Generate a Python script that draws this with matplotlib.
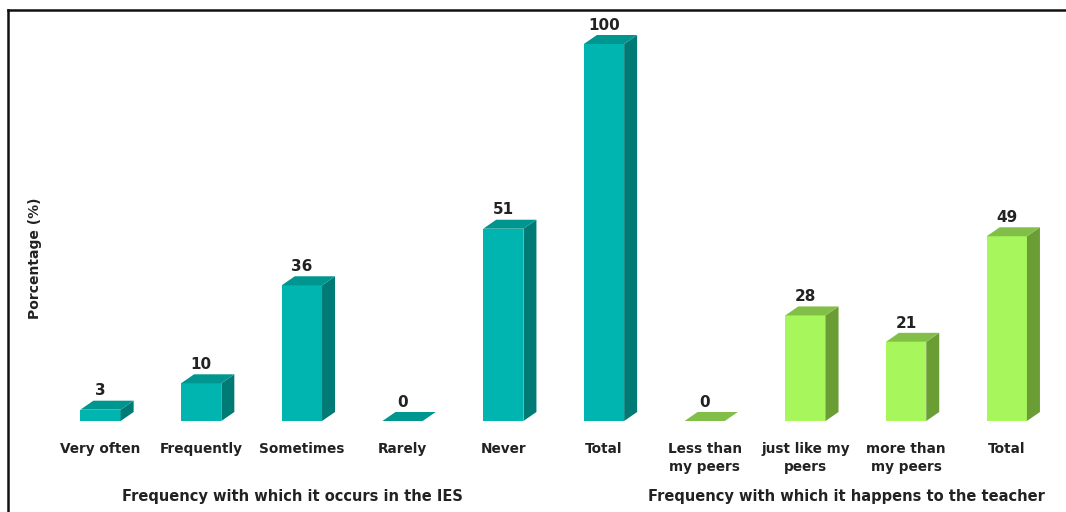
import matplotlib.pyplot as plt
from matplotlib.patches import Polygon, Rectangle

# data
categories = ["Very often", "Frequently", "Sometimes", "Rarely", "Never", "Total",
              "Less than\nmy peers", "just like my\npeers", "more than\nmy peers", "Total"]
values = [3, 10, 36, 0, 51, 100, 0, 28, 21, 49]
group = [0, 0, 0, 0, 0, 0, 1, 1, 1, 1]
group_labels = ["Frequency with which it occurs in the IES",
                "Frequency with which it happens to the teacher"]
group_centers = [1.91, 7.41]  # in category units

# colours per group: front, side, top
palette = [
    ("#00B4AF", "#007A74", "#009690"),
    ("#A6F65C", "#6A9E35", "#82BF48"),
]

W, H = 1066, 512
fig = plt.figure(figsize=(W / 100, H / 100), dpi=100)
ax = fig.add_axes([0, 0, 1, 1])
ax.set_axis_off()

# pixel geometry -> data limits
px_per_cat = 100.7
x0_px = 100.5
base_px = 421          # baseline from top
px_per_unit = 3.77
ax.set_xlim(-x0_px / px_per_cat, (W - x0_px) / px_per_cat)
ax.set_ylim(-(H - base_px) / px_per_unit, base_px / px_per_unit)


def py(px):
    # pixel row (from top) -> data y
    return (base_px - px) / px_per_unit


bw = 0.40
dx = 13 / px_per_cat
dy = 9 / px_per_unit

for i, (v, g) in enumerate(zip(values, group)):
    front, side, top = palette[g]
    l, r = i - bw / 2, i + bw / 2
    if v > 0:
        ax.add_patch(Rectangle((l, 0), bw, v, facecolor=front, edgecolor="none"))
        ax.add_patch(Polygon([(r, 0), (r + dx, dy), (r + dx, v + dy), (r, v)],
                             closed=True, facecolor=side, edgecolor="none"))
    ax.add_patch(Polygon([(l, v), (r, v), (r + dx, v + dy), (l + dx, v + dy)],
                         closed=True, facecolor=top, edgecolor="none"))
    ax.text(i, v + dy + 0.6, str(v), ha="center", va="bottom",
            fontsize=11, fontweight="bold", color="#222222")
    ax.text(i, py(442), categories[i], ha="center", va="top",
            fontsize=9.8, fontweight="bold", color="#222222", linespacing=1.35)

# group labels
for c, lab in zip(group_centers, group_labels):
    ax.text(c, py(496), lab, ha="center", va="center", fontsize=10.5,
            fontweight="bold", color="#222222")

# y label
fig.text(35 / W, 1 - 258 / H, "Porcentage (%)", rotation=90, ha="center",
         va="center", fontsize=10, fontweight="bold", color="#222222")

# frame (top and left edges visible)
fig.add_artist(plt.Line2D([8 / W, 8 / W], [0, 1 - 10 / H], transform=fig.transFigure,
                          color="#111111", lw=1.8))
fig.add_artist(plt.Line2D([8 / W, 1], [1 - 10 / H, 1 - 10 / H], transform=fig.transFigure,
                          color="#111111", lw=1.8))

fig.savefig("out.png", dpi=100, facecolor="white")
